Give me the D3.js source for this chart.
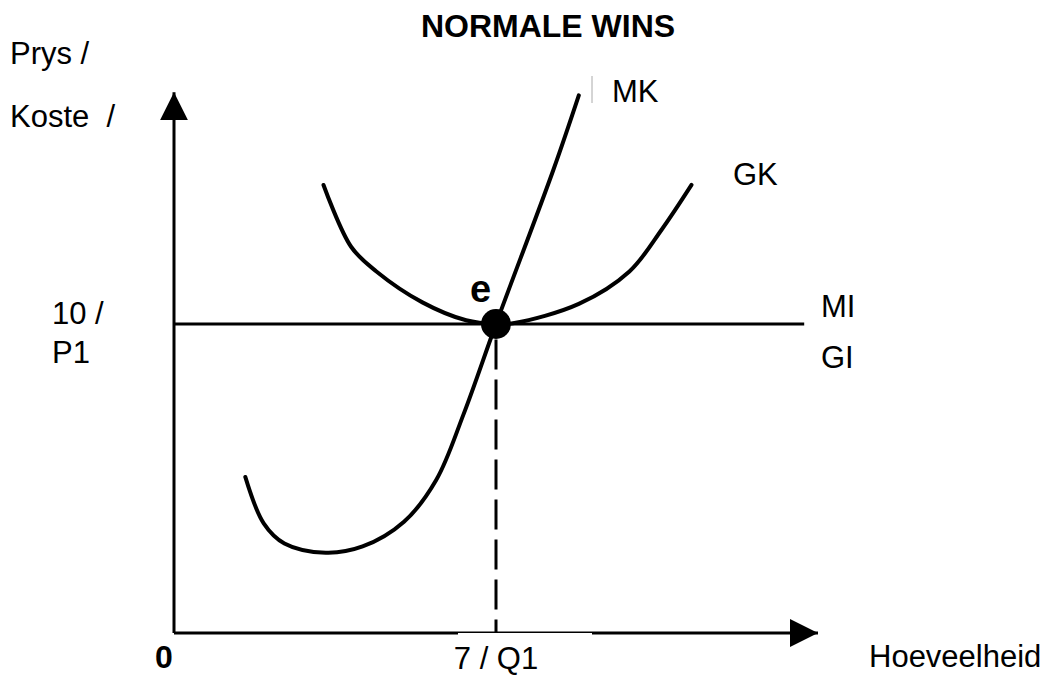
<!DOCTYPE html>
<html>
<head>
<meta charset="utf-8">
<script src="https://cdn.jsdelivr.net/npm/d3@7"></script>
<style>
  body { margin: 0; background: #fff; }
  text { font-family: "Liberation Sans", Arial, sans-serif; fill: #000; white-space: pre; }
</style>
</head>
<body>
<div id="chart"></div>
<script>
// quantities (x) and prices (y)
const mkQ = [1.55, 1.95, 2.4, 3.3, 4.1, 5.0, 5.7, 6.3, 7, 8.25, 8.8];
const mkP = [5.05, 3.55, 2.9, 2.6, 2.8, 3.6, 4.95, 7.1, 10, 15, 17.4];

const gkQ = [3.25, 3.85, 4.4, 5.4, 6.35, 7, 7.4, 8.8, 9.9, 10.6, 11.25];
const gkP = [14.5, 12.5, 11.7, 10.7, 10.12, 10, 10.03, 10.65, 11.7, 13.05, 14.5];

const miQ = [0, 13.7];
const miP = [10, 10];

const eqQ = 7, eqP = 10;
const xMax = 14.0, yMax = 17.5;

const yTickLabels = ["10 /", "P1"];
const xTickLabel = "7 / Q1";
const title = "NORMALE WINS";

const width = 1049, height = 677;

const x = d3.scaleLinear().domain([0, 7]).range([174, 496]);
const y = d3.scaleLinear().domain([0, 10]).range([633, 324]);

const svg = d3.select("#chart").append("svg")
  .attr("width", width)
  .attr("height", height);

// arrow head for the axes
svg.append("defs").append("marker")
  .attr("id", "arrow")
  .attr("markerUnits", "userSpaceOnUse")
  .attr("viewBox", "0 0 28 28")
  .attr("refX", 28).attr("refY", 14)
  .attr("markerWidth", 28).attr("markerHeight", 28)
  .attr("orient", "auto")
  .append("path")
  .attr("d", "M0,0 L28,14 L0,28 Z")
  .attr("fill", "#000");

const line = d3.line()
  .x(d => x(d[0]))
  .y(d => y(d[1]));

// axes
svg.append("path")
  .attr("d", line([[0, 0], [0, yMax]]))
  .attr("stroke", "#000").attr("stroke-width", 3).attr("fill", "none")
  .attr("marker-end", "url(#arrow)");

svg.append("path")
  .attr("d", line([[0, 0], [xMax, 0]]))
  .attr("stroke", "#000").attr("stroke-width", 3).attr("fill", "none")
  .attr("marker-end", "url(#arrow)");

// MI = GI line
svg.append("path")
  .attr("d", line(miQ.map((q, i) => [q, miP[i]])))
  .attr("stroke", "#000").attr("stroke-width", 3).attr("fill", "none");

// dashed drop line to Q1
svg.append("path")
  .attr("d", line([[eqQ, eqP - 0.5], [eqQ, 0]]))
  .attr("stroke", "#000").attr("stroke-width", 3).attr("fill", "none")
  .attr("stroke-dasharray", "30,10");

const curve = d3.line()
  .x(d => x(d[0]))
  .y(d => y(d[1]))
  .curve(d3.curveCatmullRom.alpha(0.5));

svg.append("path")
  .attr("d", curve(gkQ.map((q, i) => [q, gkP[i]])))
  .attr("stroke", "#000").attr("stroke-width", 4).attr("fill", "none")
  .attr("stroke-linecap", "round");

svg.append("path")
  .attr("d", curve(mkQ.map((q, i) => [q, mkP[i]])))
  .attr("stroke", "#000").attr("stroke-width", 4).attr("fill", "none")
  .attr("stroke-linecap", "round");

// equilibrium point
svg.append("circle")
  .attr("cx", x(eqQ)).attr("cy", y(eqP))
  .attr("r", 15).attr("fill", "#000");

svg.append("text")
  .attr("x", x(eqQ) - 26).attr("y", y(eqP) - 22)
  .attr("font-size", 38).attr("font-weight", "bold")
  .text("e");

// white patch behind the Q1 label (cuts the axis as in the original)
svg.append("rect")
  .attr("x", 458).attr("y", y(0))
  .attr("width", 134).attr("height", 40)
  .attr("fill", "#fff");

const fs = 31;

svg.append("text")
  .attr("x", 548).attr("y", 37)
  .attr("text-anchor", "middle")
  .attr("font-size", 32).attr("font-weight", "bold")
  .text(title);

svg.append("text").attr("x", 10).attr("y", 64).attr("font-size", fs).text("Prys /");
svg.append("text").attr("x", 10).attr("y", 127).attr("font-size", fs).text("Koste\u00a0\u00a0/");

svg.selectAll(".ytick")
  .data(yTickLabels)
  .join("text")
  .attr("class", "ytick")
  .attr("x", 52)
  .attr("y", (d, i) => y(eqP) + i * 39)
  .attr("font-size", fs)
  .text(d => d);

svg.append("text")
  .attr("x", x(eqQ)).attr("y", 669)
  .attr("text-anchor", "middle")
  .attr("font-size", fs)
  .text(xTickLabel);

svg.append("text")
  .attr("x", x(0) - 19).attr("y", 668)
  .attr("font-size", 32).attr("font-weight", "bold")
  .text("0");

svg.append("text").attr("x", 869).attr("y", 667).attr("font-size", fs).text("Hoeveelheid");

// curve labels
svg.append("line")
  .attr("x1", 592).attr("x2", 592).attr("y1", 76).attr("y2", 103)
  .attr("stroke", "#aaa").attr("stroke-width", 1);
svg.append("text").attr("x", 612).attr("y", 102).attr("font-size", fs).text("MK");
svg.append("text").attr("x", 733).attr("y", 185).attr("font-size", fs).text("GK");
svg.append("text").attr("x", 821).attr("y", 317).attr("font-size", fs).text("MI");
svg.append("text").attr("x", 821).attr("y", 368).attr("font-size", fs).text("GI");
</script>
</body>
</html>
